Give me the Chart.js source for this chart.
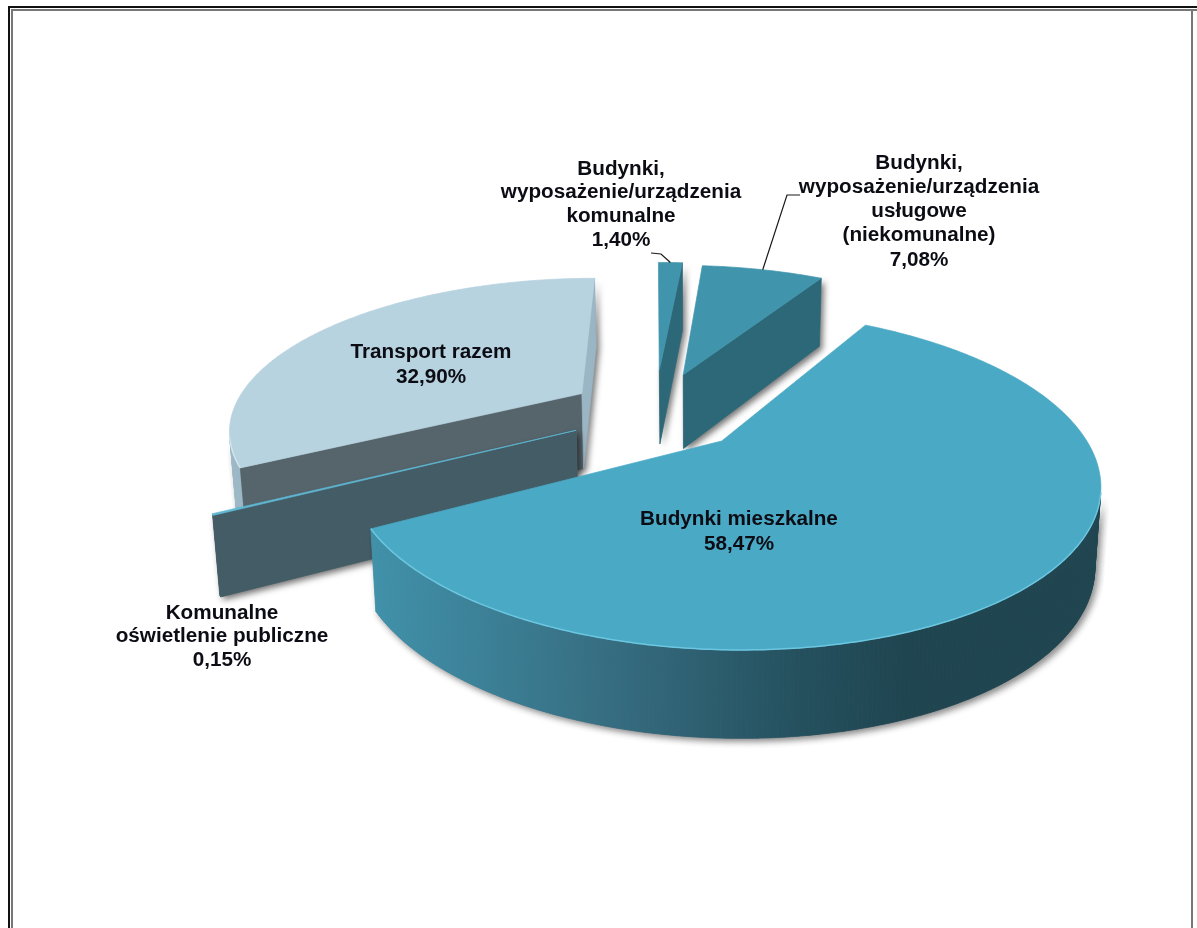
<!DOCTYPE html>
<html lang="pl">
<head>
<meta charset="utf-8">
<title>Struktura zużycia energii</title>
<script src="https://cdn.jsdelivr.net/npm/chart.js@4/dist/chart.umd.min.js"></script>
<style>
    html, body { margin: 0; padding: 0; background: #fff; overflow: hidden; }
    canvas { display: block; }
</style>
</head>
<body>
<canvas id="pieChart" width="1197" height="928"></canvas>
<script>
// Chart data, in the order the slices run clockwise
const categories = [
    'Budynki mieszkalne',
    'Komunalne oświetlenie publiczne',
    'Transport razem',
    'Budynki, wyposażenie/urządzenia komunalne',
    'Budynki, wyposażenie/urządzenia usługowe (niekomunalne)'
];
const shares = [58.47, 0.15, 32.90, 1.40, 7.08];
const labelLines = [
    ['Budynki mieszkalne'],
    ['Komunalne', 'oświetlenie publiczne'],
    ['Transport razem'],
    ['Budynki,', 'wyposażenie/urządzenia', 'komunalne'],
    ['Budynki,', 'wyposażenie/urządzenia', 'usługowe', '(niekomunalne)']
];

// Slice styles
const topColors = ['#4aa9c4', '#5fb8d3', '#b7d3df', '#4095ad', '#4095ad'];
const rimColors = ['#6cc6e0', '#6cc6e0', '#d3e5ec', null, null];
const startFaceColors = ['#3f90a9', '#435c66', '#56646b', '#2d6879', '#2d6879'];
const endFaceColors = ['#3f90a9', '#435c66', '#9ab5c4', '#2d6879', '#2d6879'];
const wallStops = [
    [[0, '#4092ab'], [0.31, '#376f83'], [0.59, '#24505e'], [0.73, '#1f4550'], [1, '#1f4550']],
    [[0, '#435c66'], [1, '#435c66']],
    [[0, '#9db9c7'], [1, '#9db9c7']],
    [[0, '#2d6879'], [1, '#2d6879']],
    [[0, '#2d6879'], [1, '#2d6879']]
];
const explodes = [0.262, 0.25, 0.25, 0.30, 0.28];

// Label anchors: centre x and first baseline-middle y
const labelSpots = [
    { x: 739, y: 519, gap: 25 },
    { x: 222, y: 613, gap: 23.5 },
    { x: 431, y: 352, gap: 25 },
    { x: 621, y: 169, gap: 23.7 },
    { x: 919, y: 163, gap: 24.2 }
];
const leaders = {
    3: { from: [[651, 253], [661, 254]] },
    4: { from: [[800, 195], [787, 195]] }
};

// Perspective of the pie plane, fitted by eye
const view = { x: 655, y: 412, rx: 350, ry: 148, tilt: 0.22, depth: 76, vanishX: 700, lean: 0.015 };

// Map a point of the unit pie plane (z 0 = top, z 1 = bottom) to the screen
function project(px, py, z) {
    const w = 1 - view.tilt * py;
    let sx = view.x + view.rx * px / w;
    const sy = view.y + view.ry * py / w + z * view.depth / Math.sqrt(w);
    sx += z * (view.vanishX - sx) * view.lean;
    return [sx, sy];
}

function sliceOrigin(arc, index) {
    const mid = (arc.startAngle + arc.endAngle) / 2;
    return [Math.cos(mid) * explodes[index], Math.sin(mid) * explodes[index]];
}

function rimPoint(origin, angle, z) {
    return project(origin[0] + Math.cos(angle), origin[1] + Math.sin(angle), z);
}

function tracePolygon(ctx, points) {
    ctx.beginPath();
    points.forEach((p, i) => (i ? ctx.lineTo(p[0], p[1]) : ctx.moveTo(p[0], p[1])));
    ctx.closePath();
}

function signedArea(points) {
    let area = 0;
    points.forEach((p, i) => {
        const q = points[(i + 1) % points.length];
        area += p[0] * q[1] - q[0] * p[1];
    });
    return area / 2;
}

function fillFace(ctx, points, color) {
    tracePolygon(ctx, points);
    ctx.fillStyle = color;
    ctx.strokeStyle = color;
    ctx.lineWidth = 0.7;
    ctx.fill();
    ctx.stroke();
}

function arcAngles(arc) {
    const angles = [];
    const steps = Math.max(2, Math.ceil((arc.endAngle - arc.startAngle) * 90));
    for (let i = 0; i <= steps; i++) {
        angles.push(arc.startAngle + (arc.endAngle - arc.startAngle) * i / steps);
    }
    return angles;
}

function drawSlice(ctx, arc, index) {
    const origin = sliceOrigin(arc, index);
    const angles = arcAngles(arc);
    const apexTop = project(origin[0], origin[1], 0);
    const apexBottom = project(origin[0], origin[1], 1);
    const top = [apexTop].concat(angles.map(a => rimPoint(origin, a, 0)));

    // Cut faces, kept when they turn towards the viewer
    const first = angles[0];
    const last = angles[angles.length - 1];
    const startFace = [apexTop, rimPoint(origin, first, 0), rimPoint(origin, first, 1), apexBottom];
    const endFace = [apexTop, apexBottom, rimPoint(origin, last, 1), rimPoint(origin, last, 0)];
    const faces = [];
    if (signedArea(startFace) < 0) faces.push([startFace, startFaceColors[index]]);
    if (signedArea(endFace) < 0) faces.push([endFace, endFaceColors[index]]);

    // Outer wall, split into small quads facing the viewer
    const wall = [];
    const rim = [];
    for (let i = 0; i < angles.length - 1; i++) {
        const quad = [
            rimPoint(origin, angles[i], 0),
            rimPoint(origin, angles[i], 1),
            rimPoint(origin, angles[i + 1], 1),
            rimPoint(origin, angles[i + 1], 0)
        ];
        if (signedArea(quad) > 0) {
            wall.push(quad);
            rim.push(quad[0], quad[3]);
        }
    }

    // Soft drop shadow under the whole body
    ctx.save();
    ctx.shadowColor = 'rgba(0, 0, 0, 0.55)';
    ctx.shadowBlur = 6;
    ctx.shadowOffsetX = 3;
    ctx.shadowOffsetY = 3;
    ctx.fillStyle = '#888';
    faces.forEach(f => { tracePolygon(ctx, f[0]); ctx.fill(); });
    wall.forEach(q => { tracePolygon(ctx, q); ctx.fill(); });
    ctx.restore();

    if (wall.length) {
        const xs = wall.reduce((all, q) => all.concat(q.map(p => p[0])), []);
        const gradient = ctx.createLinearGradient(Math.min(...xs), 0, Math.max(...xs), 0);
        wallStops[index].forEach(s => gradient.addColorStop(s[0], s[1]));
        wall.forEach(q => fillFace(ctx, q, gradient));
    }
    faces.forEach(f => fillFace(ctx, f[0], f[1]));
    fillFace(ctx, top, topColors[index]);

    // Light bevel along the front rim
    if (rim.length && rimColors[index]) {
        ctx.beginPath();
        rim.forEach((p, i) => (i ? ctx.lineTo(p[0], p[1]) : ctx.moveTo(p[0], p[1])));
        ctx.strokeStyle = rimColors[index];
        ctx.lineWidth = 1.5;
        ctx.stroke();
    }
}

function drawLabels(ctx, arcs) {
    ctx.font = 'bold 20.7px "Liberation Sans", Arial, sans-serif';
    ctx.textAlign = 'center';
    ctx.textBaseline = 'middle';
    ctx.fillStyle = '#0c0c14';
    labelLines.forEach((lines, i) => {
        const spot = labelSpots[i];
        const all = lines.concat(shares[i].toFixed(2).replace('.', ',') + '%');
        all.forEach((line, n) => ctx.fillText(line, spot.x, spot.y + n * spot.gap));
    });

    // Leader lines run from beside the label to the middle of the slice rim
    ctx.strokeStyle = '#1a1a1a';
    ctx.lineWidth = 1.2;
    Object.keys(leaders).forEach(key => {
        const arc = arcs[key];
        const origin = sliceOrigin(arc, key);
        const end = rimPoint(origin, (arc.startAngle + arc.endAngle) / 2, 0);
        ctx.beginPath();
        leaders[key].from.forEach((p, i) => (i ? ctx.lineTo(p[0], p[1]) : ctx.moveTo(p[0], p[1])));
        ctx.lineTo(end[0], end[1]);
        ctx.stroke();
    });
}

// The frame around the pasted picture, open at the bottom
const framePlugin = {
    id: 'framePlugin',
    beforeDraw(chart) {
        const { ctx } = chart;
        ctx.save();
        ctx.fillStyle = '#fff';
        ctx.fillRect(0, 0, chart.width, chart.height);
        ctx.strokeStyle = '#111';
        ctx.lineWidth = 2;
        ctx.beginPath();
        ctx.moveTo(9, 928);
        ctx.lineTo(9, 7);
        ctx.lineTo(1197, 7);
        ctx.stroke();
        ctx.strokeStyle = '#777';
        ctx.lineWidth = 2;
        ctx.beginPath();
        ctx.moveTo(12, 928);
        ctx.lineTo(12, 10);
        ctx.lineTo(1197, 10);
        ctx.moveTo(1192, 10);
        ctx.lineTo(1192, 928);
        ctx.stroke();
        ctx.restore();
    }
};

// Replaces the flat arcs with an exploded, tilted 3D pie built from the arc elements
const pie3dPlugin = {
    id: 'pie3dPlugin',
    beforeDatasetsDraw(chart) {
        const { ctx } = chart;
        const arcs = chart.getDatasetMeta(0).data;
        const order = arcs.map((arc, i) => i).sort((a, b) => {
            const pa = sliceOrigin(arcs[a], a);
            const pb = sliceOrigin(arcs[b], b);
            return project(pa[0], pa[1], 0)[1] - project(pb[0], pb[1], 0)[1];
        });
        ctx.save();
        order.forEach(i => drawSlice(ctx, arcs[i], i));
        drawLabels(ctx, arcs);
        ctx.restore();
        return false;
    }
};

new Chart(document.getElementById('pieChart').getContext('2d'), {
    type: 'pie',
    data: {
        labels: categories,
        datasets: [{ data: shares, backgroundColor: topColors, borderWidth: 0 }]
    },
    options: {
        responsive: false,
        animation: false,
        rotation: 30.5,
        plugins: { legend: { display: false }, tooltip: { enabled: false } }
    },
    plugins: [framePlugin, pie3dPlugin]
});
</script>
</body>
</html>
